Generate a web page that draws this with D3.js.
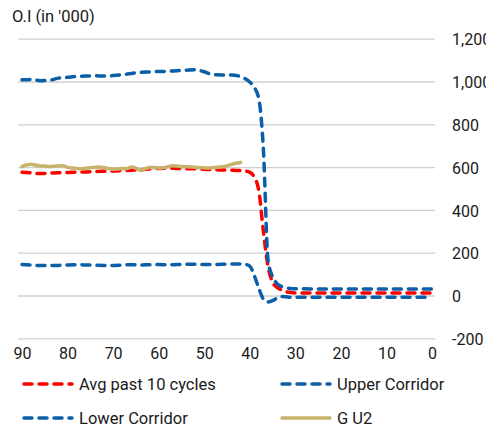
<!DOCTYPE html>
<html>
<head>
<meta charset="utf-8">
<script src="https://cdn.jsdelivr.net/npm/d3@7/dist/d3.min.js"></script>
<style>
  html, body { margin: 0; padding: 0; background: #fff; }
  svg { display: block; font-family: Roboto, "Liberation Sans", sans-serif; }
</style>
</head>
<body>
<svg id="chart" width="486" height="430"></svg>
<script>
// ---- Data ----
const days = [90,88,86,84,82,80,78,76,74,72,70,68,66,64,62,60,58,56,54,52,50,48,46,44,42,41,40,39,38,37,36,35,34,33,32,31,30,25,20,15,10,5,0];
const avgPast10 = [578,576,572,574,576,577,579,580,582,583,584,586,588,590,593,596,597,596,595,594,592,590,589,588,586,584,578,555,490,300,140,65,40,28,20,16,14,14,14,14,14,14,14];
const upperCorridor = [1010,1012,1006,1008,1018,1022,1026,1028,1029,1028,1030,1034,1040,1045,1047,1049,1050,1053,1055,1057,1048,1034,1033,1033,1025,1015,1000,975,920,680,170,90,58,44,38,35,34,33,33,33,33,33,33];
const lowerCorridor = [147,145,142,142,143,145,146,145,144,143,142,145,146,145,146,147,146,147,148,148,147,147,148,150,150,148,140,95,35,-15,-28,-22,-10,-2,-4,-6,-6,-6,-6,-6,-6,-6,-6];
const guDays = [90,89,88,87,86,85,84,83,82,81,80,79,78,77,76,75,74,73,72,71,70,69,68,67,66,65,64,63,62,61,60,59,58,57,56,55,54,53,52,51,50,49,48,47,46,45,44,43,42];
const gU2 = [605,612,616,611,608,607,605,606,608,609,601,598,596,595,597,599,601,603,600,596,592,594,596,595,603,597,587,594,600,601,598,599,604,609,607,605,604,603,602,600,599,598,600,602,604,608,615,620,624];
const xTicks = [90,80,70,60,50,40,30,20,10,0];
const yTicks = [-200,0,200,400,600,800,1000,1200];
const seriesNames = ["Avg past 10 cycles","Upper Corridor","Lower Corridor","G U2"];

// ---- Scales ----
const svg = d3.select("#chart");
const x = d3.scaleLinear().domain([90,0]).range([22,432]);
const y = d3.scaleLinear().domain([-200,1200]).range([338.8,39.2]);

// gridlines
svg.append("g").selectAll("line").data(yTicks).join("line")
  .attr("x1",18).attr("x2",435)
  .attr("y1",d=>y(d)).attr("y2",d=>y(d))
  .attr("stroke","#d0d0d0").attr("stroke-width",1.3);

// y axis labels (right)
const fmt = d3.format(",");
const yAxis = d3.axisRight(y).tickValues(yTicks).tickSize(0).tickPadding(0)
  .tickFormat(d => fmt(d).replace("\u2212","-"));
svg.append("g").attr("transform","translate(452,0)").call(yAxis)
  .call(g=>g.select(".domain").remove())
  .call(g=>g.selectAll("text").attr("font-size",16).attr("fill","#1a1a1a")
    .attr("font-family","Roboto, sans-serif").attr("dy","0.35em"));

// x axis labels
const xAxis = d3.axisBottom(x).tickValues(xTicks).tickSize(0).tickPadding(0);
svg.append("g").attr("transform","translate(0,348)").call(xAxis)
  .call(g=>g.select(".domain").remove())
  .call(g=>g.selectAll("text").attr("font-size",16).attr("fill","#1a1a1a")
    .attr("font-family","Roboto, sans-serif").attr("dy","0.71em"));

// title
svg.append("text").attr("x",12).attr("y",22).attr("font-size",16.5)
  .attr("fill","#1a1a1a").text("O.I (in '000)");

// ---- Lines ----
const line = d3.line().x(d=>x(d[0])).y(d=>y(d[1])).curve(d3.curveMonotoneX);
const colors = ["#ff0000","#0b5ea8","#0b5ea8","#c9b26c"];
const dashes = ["8,7","8,7","8,7",null];
const seriesData = [
  days.map((d,i)=>[d,avgPast10[i]]),
  days.map((d,i)=>[d,upperCorridor[i]]),
  days.map((d,i)=>[d,lowerCorridor[i]]),
  guDays.map((d,i)=>[d,gU2[i]])
];
seriesData.forEach((s,i)=>{
  svg.append("path").datum(s).attr("d",line)
    .attr("fill","none").attr("stroke",colors[i])
    .attr("stroke-width",3.5)
    .attr("stroke-linecap","round")
    .attr("stroke-linejoin","round")
    .attr("stroke-dasharray",dashes[i]);
});

// ---- Legend ----
const legendPos = [[22,384],[280,384],[22,418],[280,418]];
seriesNames.forEach((n,i)=>{
  const [lx,ly] = legendPos[i];
  svg.append("line").attr("x1",lx+2).attr("x2",lx+50)
    .attr("y1",ly).attr("y2",ly)
    .attr("stroke",colors[i]).attr("stroke-width",3.5)
    .attr("stroke-linecap","round")
    .attr("stroke-dasharray",dashes[i]);
  svg.append("text").attr("x",lx+57).attr("y",ly).attr("dy","0.35em")
    .attr("font-size",16.5).attr("fill","#1a1a1a").text(n);
});
</script>
</body>
</html>
